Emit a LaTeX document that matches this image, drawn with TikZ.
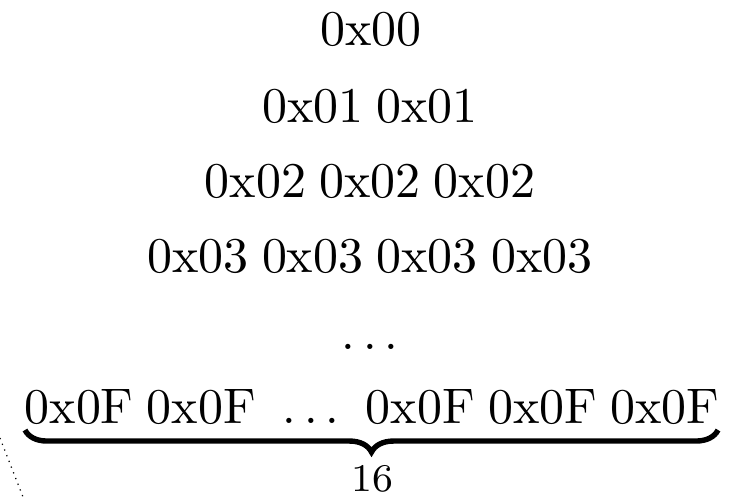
\documentclass[tikz,border=0pt]{standalone}
\usepackage{amsmath}
\usepackage{tikz}
\usetikzlibrary{decorations.pathreplacing}

\newcommand{\rowfont}{\fontsize{10.2}{12}\selectfont\spaceskip=2.7pt\relax}
\tikzset{
    row/.style={anchor=base, inner sep=0pt, font=\rowfont},
}

\begin{document}
\begin{tikzpicture}[x=0.2041pt, y=-0.2041pt]
    \useasboundingbox (0,0) rectangle (741,497);

    \node[row] (r0) at (371,45) {0x00};
    \node[row] (r1) at (370,122) {0x01 0x01};
    \node[row] (r2) at (370,197) {0x02 0x02 0x02};
    \node[row] (r3) at (370,272) {0x03 0x03 0x03 0x03};
    \node[row] (rdots) at (370,349) {$\ldots$};
    \node[row] (rlast) at (372,423) {0x0F 0x0F \ $\ldots$\ \ 0x0F 0x0F 0x0F};

    \coordinate (bl) at (25,430);
    \coordinate (br) at (718,430);
    \draw[line width=1.1pt,decorate,decoration={brace,mirror,amplitude=4.5pt}]
                  (bl) -- (br);
    \node[anchor=base, inner sep=0pt, font=\footnotesize] (count) at (372,491) {16};

    \coordinate (s0) at (0,438);
    \coordinate (s1) at (23,497);
    \draw[densely dotted,line width=0.25pt] (s0) -- (s1);
\end{tikzpicture}
\end{document}
